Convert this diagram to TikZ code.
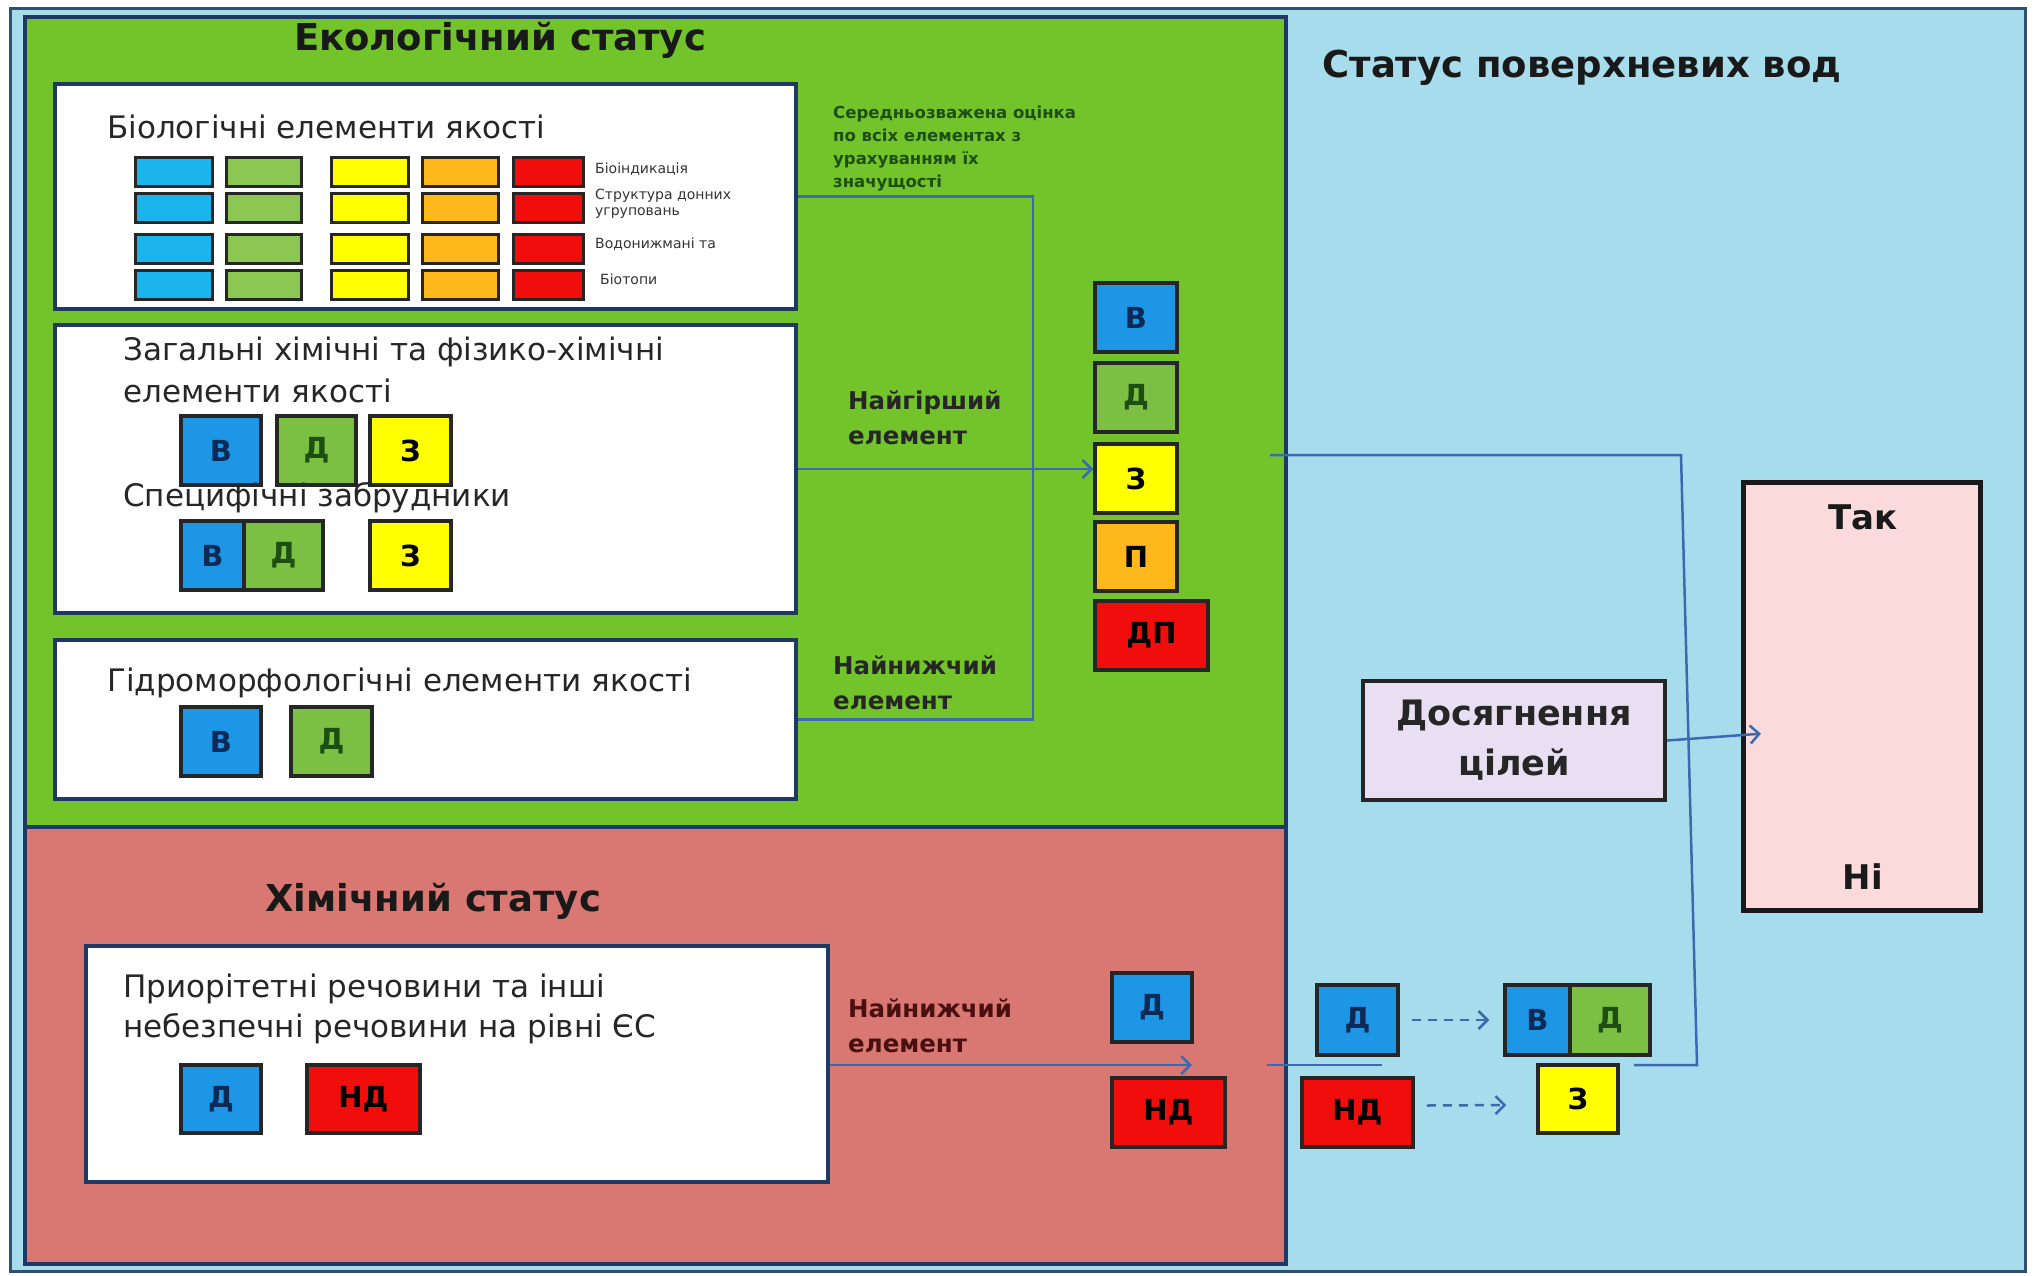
\documentclass[tikz,border=0pt]{standalone}
\usepackage{fontspec}
\setmainfont{DejaVu Sans}
\usetikzlibrary{arrows.meta,calc}
\definecolor{skyb}{HTML}{A6DCEC}
\definecolor{grn}{HTML}{72C42A}
\definecolor{redbg}{HTML}{D97772}
\definecolor{navy}{HTML}{1F3864}
\definecolor{outl}{HTML}{2F5070}
\definecolor{cblue}{HTML}{1E96E6}
\definecolor{cgreen}{HTML}{7BC043}
\definecolor{cyel}{HTML}{FFFF00}
\definecolor{corange}{HTML}{FFB81C}
\definecolor{cred}{HTML}{F20D0D}
\definecolor{ccyan}{HTML}{1CB4EC}
\definecolor{lgreen}{HTML}{8CC653}
\definecolor{conn}{HTML}{3C6AB0}
\definecolor{lav}{HTML}{E8E0F2}
\definecolor{pinkb}{HTML}{FADADA}
\definecolor{dgreen}{HTML}{1E4F12}
\definecolor{dnavy}{HTML}{0B2A55}
\definecolor{dred}{HTML}{4A1010}
\begin{document}
\begin{tikzpicture}[x=1pt,y=-1pt,
  area/.style={draw=navy,line width=4pt,inner sep=0pt},
  wbox/.style={draw=navy,fill=white,line width=4pt,inner sep=0pt},
  cell/.style={draw=black!85,line width=3.5pt,inner sep=0pt,minimum height=69pt,
    font=\fontsize{29}{31}\selectfont\bfseries},
  bcell/.style={cell,fill=cblue,text=dnavy},
  gcell/.style={cell,fill=cgreen,text=dgreen},
  ycell/.style={cell,fill=cyel,text=black},
  ocell/.style={cell,fill=corange,text=black},
  rcell/.style={cell,fill=cred,text=black},
  tcell/.style={draw=black!85,line width=3pt,inner sep=0pt,minimum height=29pt},
  ttl/.style={font=\fontsize{37}{40}\selectfont\bfseries,text=black!90,inner sep=0pt},
  btxt/.style={font=\fontsize{31}{35}\selectfont,text=black!85,inner sep=0pt,anchor=west},
  tiny/.style={font=\fontsize{14}{16}\selectfont,text=black!80,inner sep=0pt,anchor=west,align=left},
  mtxt/.style={font=\fontsize{16.5}{23}\selectfont\bfseries,text=dgreen,inner sep=0pt,anchor=north west,align=left},
  ltxt/.style={font=\fontsize{24.5}{35}\selectfont\bfseries,inner sep=0pt,anchor=north west,align=left},
  cline/.style={draw=conn,line width=2.5pt},
  carr/.style={cline,-{Straight Barb[length=9pt,width=18pt,line width=2.5pt]}},
  darr/.style={cline,dashed,dash pattern=on 9pt off 7pt,-{Straight Barb[length=9pt,width=18pt,line width=2.5pt]}}
]
\useasboundingbox (0,0) rectangle (2037,1275);
\fill[white] (0,0) rectangle (2037,1275);
% areas
\node[area,draw=outl,line width=3pt,fill=skyb,minimum width=2015pt,minimum height=1263pt] (outer) at (1017.5,639.5) {};
\node[area,fill=grn,minimum width=1261pt,minimum height=810pt] (eco) at (655.5,422) {};
\node[area,fill=redbg,minimum width=1261pt,minimum height=437pt] (chem) at (655.5,1045.5) {};
% titles
\node[ttl] (tEco) at (500,40) {Екологічний статус};
\node[ttl] (tSur) at (1582,68) {Статус поверхневих вод};
\node[ttl] (tChem) at (433,901) {Хімічний статус};
% biological box
\node[wbox,minimum width=741pt,minimum height=225pt] (bio) at (425.5,196.5) {};
\node[btxt] (bioT) at (107,127) {Біологічні елементи якості};
\foreach \cx/\cc/\cw [count=\j] in {173.5/ccyan/77,263.5/lgreen/75,369.5/cyel/77,460/corange/76,548/cred/70}{
  \foreach \ry [count=\i] in {171.5,207.5,249,285}{
    \node[tcell,fill=\cc,minimum width=\cw pt] (g-\i-\j) at (\cx,\ry) {};
  }
}
\node[tiny] (bl1) at (595,169) {Біоіндикація};
\node[tiny,anchor=north west,font=\fontsize{14}{16}\selectfont] (bl2) at (595,189) {Структура донних\\угруповань};
\node[tiny] (bl3) at (595,244) {Водонижмані та};
\node[tiny] (bl4) at (600,279) {Біотопи};
% general chemical box
\node[wbox,minimum width=741pt,minimum height=288pt] (gen) at (425.5,469) {};
\node[btxt] (genT1) at (123,352) {Загальні хімічні та фізико-хімічні};
\node[btxt] (genT2) at (123,391) {елементи якості};
\node[bcell,minimum width=80pt] (gB) at (221,450.5) {В};
\node[gcell,minimum width=79pt] (gD) at (316.5,450.5) {Д};
\node[ycell,minimum width=81pt] (gZ) at (410.5,450.5) {З};
\node[btxt] (genT3) at (123,498) {Специфічні забрудники};
\node[bcell,minimum width=63pt] (sBB) at (212.5,555.5) {В};
\node[gcell,minimum width=79pt] (sDD) at (283.5,555.5) {Д};
\node[ycell,minimum width=81pt] (sZZ) at (410.5,555.5) {З};
% hydromorphological box
\node[wbox,minimum width=741pt,minimum height=159pt] (hyd) at (425.5,719.5) {};
\node[btxt] (hydT) at (107,683) {Гідроморфологічні елементи якості};
\node[bcell,minimum width=80pt] (hB) at (221,741.5) {В};
\node[gcell,minimum width=81pt] (hD) at (331.5,741.5) {Д};
% middle texts
\node[mtxt] (wavg) at (833,106) {Середньозважена оцінка\\по всіх елементах з\\урахуванням їх\\значущості};
\node[ltxt,text=black!85] (worst) at (848,391) {Найгірший\\елемент};
\node[ltxt,text=black!85] (lowest) at (833,656) {Найнижчий\\елемент};
% status column
\node[bcell,minimum width=82pt] (sB) at (1136,317.5) {В};
\node[gcell,minimum width=82pt] (sD) at (1136,397.5) {Д};
\node[ycell,minimum width=82pt] (sZ) at (1136,478.5) {З};
\node[ocell,minimum width=82pt] (sP) at (1136,556.5) {П};
\node[rcell,minimum width=113pt] (sDP) at (1151.5,635.5) {ДП};
% bracket connectors
\coordinate (jtop) at (1033,196.5);
\coordinate (jbot) at (1033,719.5);
\draw[cline] (bio.east) -- (jtop) -- (jbot) -- (hyd.east);
\draw[carr] (gen.east) -- (gen.east -| sZ.west);
% chemical status
\node[wbox,minimum width=742pt,minimum height=236pt] (pri) at (457,1064) {};
\node[btxt] (priT1) at (123,989) {Приорітетні речовини та інші};
\node[btxt] (priT2) at (123,1029) {небезпечні речовини на рівні ЄС};
\node[bcell,minimum width=80pt,minimum height=68pt] (pD) at (221,1099) {Д};
\node[rcell,minimum width=113pt,minimum height=68pt] (pND) at (363.5,1099) {НД};
\node[ltxt,text=dred] (lowest2) at (848,999) {Найнижчий\\елемент};
\node[bcell,minimum width=80pt] (rD) at (1152,1007.5) {Д};
\node[rcell,minimum width=113pt] (rND) at (1168.5,1112.5) {НД};
\coordinate (rtip) at (1192,1065);
\draw[carr] (pri.east |- rtip) -- (rtip);
% surface water area
\node[bcell,minimum width=81pt,minimum height=70pt] (bD) at (1357.5,1020) {Д};
\node[rcell,minimum width=111pt] (bND) at (1357.5,1112.5) {НД};
\node[bcell,minimum width=65pt,minimum height=70pt] (bV) at (1537.5,1020) {В};
\node[gcell,minimum width=80pt,minimum height=70pt] (bDD) at (1610,1020) {Д};
\node[ycell,minimum width=80pt,minimum height=68pt] (bZ) at (1578,1099) {З};
\draw[darr] ([xshift=12pt]bD.east) -- ([xshift=-14pt]bV.west);
\draw[darr] ([xshift=12pt,yshift=7pt]bND.east) -- ([xshift=-30pt,yshift=-6pt]bZ.west);
% big connector
\coordinate (e1) at (1270,455);
\coordinate (e2) at (1681,455);
\coordinate (e3) at (1697,1065);
\coordinate (e4) at (1634,1065);
\coordinate (f1) at (1267,1065);
\coordinate (f2) at (1382,1065);
\draw[cline] (e1) -- (e2) -- (e3) -- (e4);
\draw[cline] (f1) -- (f2);
% goal and yes/no
\node[draw=black!85,line width=4pt,fill=lav,minimum width=302pt,minimum height=119pt,inner sep=0pt,
  font=\fontsize{35}{50}\selectfont\bfseries,text=black!85,align=center] (goal) at (1514,740.5) {Досягнення\\цілей};
\node[draw=black!90,line width=5pt,fill=pinkb,minimum width=237pt,minimum height=428pt,inner sep=0pt] (yn) at (1861.5,696) {};
\node[ttl,font=\fontsize{34}{38}\selectfont\bfseries] (yes) at (1863,517) {Так};
\node[ttl,font=\fontsize{34}{38}\selectfont\bfseries] (no) at (1863,877) {Ні};
\coordinate (gtip) at (1743,735);
\draw[carr,shorten >=-18pt] (goal.east) -- (gtip);
\end{tikzpicture}
\end{document}
